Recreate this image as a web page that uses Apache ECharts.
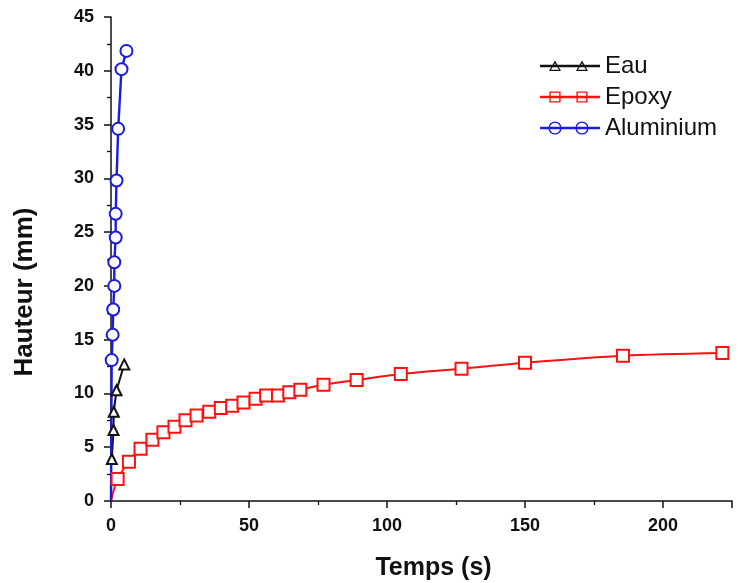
<!DOCTYPE html>
<html>
<head>
<meta charset="utf-8">
<script src="https://cdn.jsdelivr.net/npm/echarts@6/dist/echarts.min.js"></script>
<style>
html,body{margin:0;padding:0;background:#fff;}
#chart{width:738px;height:583px;}
</style>
</head>
<body>
<div id="chart"></div>
<script>
// Data
const seriesNames = ["Eau", "Epoxy", "Aluminium"];
const eauT = [0.3, 0.9, 1.0, 2.0, 4.8];
const eauH = [3.9, 6.6, 8.3, 10.3, 12.7];
const epoxyT = [0, 2.4, 6.5, 10.7, 15, 19, 23, 27, 31, 35.6, 39.8, 43.9, 48, 52.4, 56.2, 60.5, 64.6, 68.6, 77, 89, 105, 127, 150, 185.5, 221.5];
const epoxyH = [0, 2.05, 3.65, 4.85, 5.7, 6.4, 6.9, 7.5, 7.95, 8.3, 8.65, 8.85, 9.15, 9.5, 9.8, 9.8, 10.1, 10.35, 10.8, 11.25, 11.8, 12.3, 12.85, 13.5, 13.75];
const aluT = [0, 0.25, 0.6, 0.8, 1.2, 1.2, 1.7, 1.7, 2.0, 2.6, 3.8, 5.6];
const aluH = [0, 13.1, 15.45, 17.8, 20.0, 22.2, 24.5, 26.7, 29.8, 34.6, 40.15, 41.85];
const xTicks = [0, 50, 100, 150, 200];
const yTicks = [0, 5, 10, 15, 20, 25, 30, 35, 40, 45];

function pairs(t, h) {
  return t.map((v, i) => {
    const p = { value: [v, h[i]] };
    if (v === 0 && h[i] === 0) p.symbol = 'none';
    return p;
  });
}

// Legend icons: line with two hollow markers (box 60 x 14)
const C = 7;
const lineBar = `M0 ${C-1.2} L60 ${C-1.2} L60 ${C+1.2} L0 ${C+1.2} Z `;
function sq(cx) {
  const o = 5.6, i = 4.2;
  return `M${cx-o} ${C-o} L${cx+o} ${C-o} L${cx+o} ${C+o} L${cx-o} ${C+o} Z ` +
         `M${cx-i} ${C-i} L${cx-i} ${C+i} L${cx+i} ${C+i} L${cx+i} ${C-i} Z `;
}
function circ(cx) {
  const o = 6.6, i = 5.2;
  return `M${cx-o} ${C} A${o} ${o} 0 1 1 ${cx+o} ${C} A${o} ${o} 0 1 1 ${cx-o} ${C} Z ` +
         `M${cx-i} ${C} A${i} ${i} 0 1 0 ${cx+i} ${C} A${i} ${i} 0 1 0 ${cx-i} ${C} Z `;
}
function tri(cx) {
  return `M${cx} 1.5 L${cx+6} 12 L${cx-6} 12 Z ` +
         `M${cx} 4.2 L${cx-4} 10.7 L${cx+4} 10.7 Z `;
}
const pad = 'M0 0 L0.01 0 L0.01 0.01 Z M60 14 L59.99 14 L59.99 13.99 Z ';
const icons = {
  Eau: 'path://' + pad + lineBar + tri(15) + tri(42),
  Epoxy: 'path://' + pad + lineBar + sq(15) + sq(42),
  Aluminium: 'path://' + pad + lineBar + circ(15) + circ(42)
};
const colors = { Eau: '#111111', Epoxy: '#ff1010', Aluminium: '#1a1ae6' };

const chart = echarts.init(document.getElementById('chart'), null, { renderer: 'canvas' });
const font = 'Liberation Sans, Arial, sans-serif';
function mk(name, t, h, symbol, size, smooth, lw) {
  const color = colors[name];
  return {
    name: name,
    type: 'line',
    data: pairs(t, h),
    smooth: smooth,
    symbol: symbol,
    symbolSize: size,
    showAllSymbol: true,
    lineStyle: { color: color, width: lw },
    itemStyle: { color: color, borderColor: color, borderWidth: 1.3 },
    emphasis: { disabled: true },
    animation: false
  };
}
const option = {
  backgroundColor: '#fff',
  animation: false,
  grid: { left: 111, right: 6, top: 17, bottom: 82, containLabel: false, outerBoundsMode: 'none' },
  legend: {
    orient: 'vertical',
    left: 540,
    top: 54,
    padding: 0,
    itemWidth: 60,
    itemHeight: 14,
    itemGap: 7,
    textStyle: { fontFamily: font, fontSize: 24, color: '#111' },
    data: seriesNames.map(n => ({
      name: n,
      icon: icons[n],
      itemStyle: { color: colors[n], borderWidth: 0 }
    }))
  },
  xAxis: {
    type: 'value',
    min: 0, max: 225, interval: 50,
    name: 'Temps (s)',
    nameLocation: 'middle',
    nameGap: 55,
    nameTextStyle: { fontFamily: font, fontSize: 25, fontWeight: 'bold', color: '#111', padding: [0, 0, 0, 24] },
    axisLine: { lineStyle: { color: '#111', width: 1.5 } },
    axisTick: { show: true, inside: false, length: 7, lineStyle: { color: '#111', width: 1.5 } },
    minorTick: { show: true, splitNumber: 2, length: 4, lineStyle: { color: '#111', width: 1.3 } },
    axisLabel: { fontFamily: font, fontSize: 18, fontWeight: 'bold', color: '#111', margin: 16,
      formatter: v => xTicks.indexOf(v) >= 0 ? String(v) : '' },
    splitLine: { show: false }
  },
  yAxis: {
    type: 'value',
    min: 0, max: 45, interval: 5,
    name: 'Hauteur (mm)',
    nameLocation: 'middle',
    nameGap: 73,
    nameTextStyle: { fontFamily: font, fontSize: 26, fontWeight: 'bold', color: '#111', padding: [0, 66, 0, 0] },
    axisLine: { show: true, lineStyle: { color: '#111', width: 1.5 } },
    axisTick: { show: true, inside: false, length: 7, lineStyle: { color: '#111', width: 1.5 } },
    minorTick: { show: true, splitNumber: 2, length: 4, lineStyle: { color: '#111', width: 1.3 } },
    axisLabel: { fontFamily: font, fontSize: 18, fontWeight: 'bold', color: '#111', margin: 17,
      formatter: v => yTicks.indexOf(v) >= 0 ? String(v) : '' },
    splitLine: { show: false }
  },
  series: [
    mk('Eau', eauT, eauH, 'emptyTriangle', 10, false, 2),
    mk('Epoxy', epoxyT, epoxyH, 'emptyRect', 12, 0.3, 2),
    mk('Aluminium', aluT, aluH, 'emptyCircle', 12, false, 2.4)
  ]
};
chart.setOption(option);
</script>
</body>
</html>
